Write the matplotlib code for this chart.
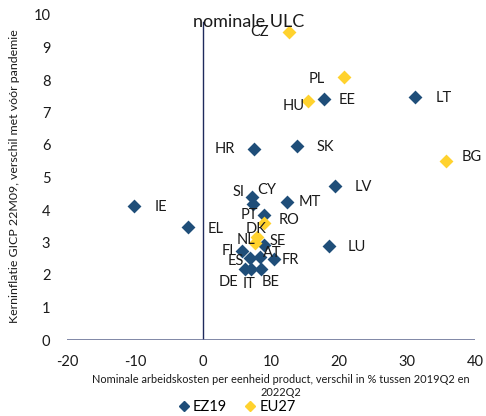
import matplotlib
matplotlib.use("Agg")
import matplotlib.pyplot as plt
from matplotlib.lines import Line2D

plt.rcParams['font.family'] = ['Lato', 'DejaVu Sans']
plt.rcParams['axes.unicode_minus'] = False

# EZ19 (navy)
ez_labels = ["LT", "EE", "SK", "HR", "LV", "LU", "IE", "EL", "MT", "SI", "CY", "PT",
             "NL", "FI", "ES", "AT", "FR", "DE", "IT", "BE"]
ez_x = [31.2, 17.8, 13.8, 7.5, 19.4, 18.5, -10.1, -2.25, 12.4, 7.25, 7.4, 8.9,
        8.9, 5.8, 6.9, 8.4, 10.4, 6.2, 7.1, 8.6]
ez_y = [7.47, 7.42, 5.97, 5.87, 4.75, 2.89, 4.12, 3.47, 4.24, 4.41, 4.2, 3.85,
        2.93, 2.75, 2.51, 2.56, 2.48, 2.2, 2.2, 2.18]

# EU27 (yellow)
eu_labels = ["CZ", "PL", "HU", "BG", "RO", "DK", "SE"]
eu_x = [12.6, 20.7, 15.5, 35.8, 8.9, 7.9, 7.6]
eu_y = [9.47, 8.08, 7.35, 5.52, 3.6, 3.17, 2.98]

# label offsets (pixels, right / up)
offsets = {
    "LT": (29, -1), "EE": (23, -1), "SK": (28, -1), "HR": (-29, 0), "LV": (28, -1),
    "LU": (28, -1), "IE": (27, -1), "EL": (28, -2), "MT": (22, 0), "SI": (-14, 5),
    "CY": (13, 13), "PT": (-14, 0), "NL": (-18, 5), "FI": (-15, 0), "ES": (-14, -3),
    "AT": (12, 4), "FR": (17, -1), "DE": (-17, -13), "IT": (-2, -15), "BE": (9, -13),
    "CZ": (-29, 0), "PL": (-27, -2), "HU": (-15, -5), "BG": (25, 4), "RO": (26, 3),
    "DK": (-1, 8), "SE": (23, 2),
}

navy = "#1F4E79"
yellow = "#FFD22E"

fig = plt.figure(figsize=(4.86, 4.16), dpi=100)
ax = fig.add_axes([67 / 486, 76 / 416, 408 / 486, 325 / 416])

ax.scatter(ez_x, ez_y, marker="D", s=50, color=navy, linewidths=0, zorder=3)
ax.scatter(eu_x, eu_y, marker="D", s=50, color=yellow, linewidths=0, zorder=4)

for lab, x, y in list(zip(ez_labels, ez_x, ez_y)) + list(zip(eu_labels, eu_x, eu_y)):
    dx, dy = offsets[lab]
    ax.annotate(lab, xy=(x, y), xytext=(dx, dy), textcoords="offset pixels",
                ha="center", va="center", fontsize=10.5, color="#1a1a1a", zorder=5)

ax.set_xlim(-20, 40)
ax.set_ylim(0, 10)
ax.set_xticks(range(-20, 41, 10))
ax.set_yticks(range(0, 11))
for s in ax.spines.values():
    s.set_visible(False)
# vertical axis line stops just under the title
ax.axvline(0, ymax=0.978, color="#1F2A5C", lw=1, zorder=2)
ax.axhline(0, color="#6B7397", lw=1.2, zorder=2)
ax.tick_params(length=0, labelsize=10.5, colors="#1a1a1a")
ax.tick_params(axis="x", pad=11)
ax.tick_params(axis="y", pad=12)

# title: first line sits mostly above the top edge, as in the original
fig.text(236 / 486, 1 + 4 / 416, "Kerninflatie (y, %-punt) versus ontwikkeling",
         ha="center", va="baseline", fontsize=13, color="#1a1a1a")
fig.text(249 / 486, 1 - 27 / 416, "nominale ULC",
         ha="center", va="baseline", fontsize=13, color="#1a1a1a")
fig.text(281 / 486, 1 - 386 / 416,
         "Nominale arbeidskosten per eenheid product, verschil in % tussen 2019Q2 en\n2022Q2",
         ha="center", va="center", fontsize=7.9, color="#1a1a1a", linespacing=1.3)
fig.text(15 / 486, 1 - 176 / 416, "Kerninflatie GICP 22M09, verschil met vóór pandemie",
         ha="center", va="center", rotation=90, fontsize=8.9, color="#1a1a1a")

handles = [Line2D([], [], marker="D", ls="none", color=navy, ms=5.5),
           Line2D([], [], marker="D", ls="none", color=yellow, ms=5.5)]
fig.legend(handles, ["EZ19", "EU27"], loc="center", bbox_to_anchor=(237 / 486, 1 - 407 / 416),
           ncol=2, frameon=False, fontsize=10.5, handletextpad=0.2, columnspacing=1.2,
           handlelength=0.8)

fig.savefig("out.png", dpi=100)
